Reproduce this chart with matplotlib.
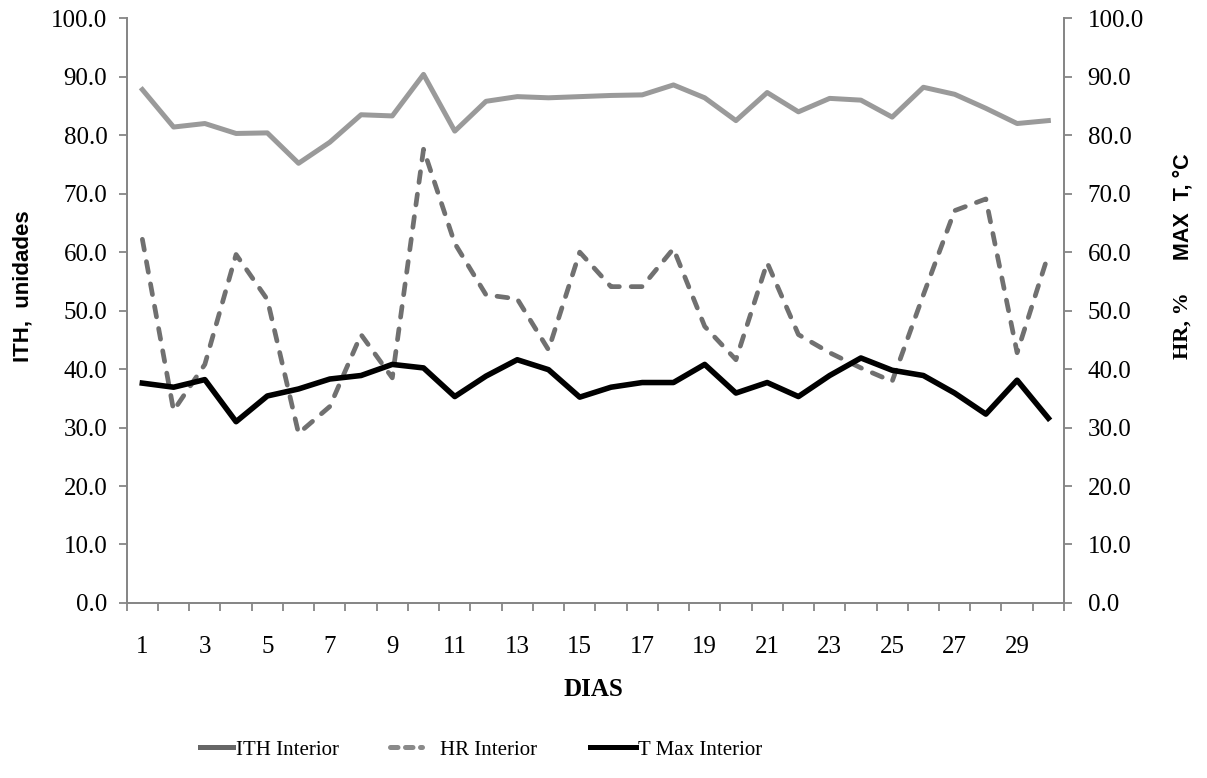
import matplotlib
matplotlib.use("Agg")
import matplotlib.pyplot as plt
from matplotlib.lines import Line2D

days = list(range(1, 31))
ith_interior = [87.8, 81.4, 82.0, 80.3, 80.4, 75.2, 78.8, 83.5, 83.3, 90.4,
                80.7, 85.8, 86.6, 86.4, 86.6, 86.8, 86.9, 88.6, 86.4, 82.5,
                87.3, 84.0, 86.3, 86.0, 83.1, 88.2, 87.0, 84.6, 82.0, 82.5]
hr_interior = [62.2, 32.9, 40.8, 59.6, 51.9, 29.0, 33.6, 45.9, 38.5, 77.6,
               61.5, 52.7, 52.0, 43.3, 60.0, 54.1, 54.1, 60.6, 47.3, 41.6,
               58.2, 45.9, 42.8, 40.2, 37.9, 52.7, 67.1, 69.1, 42.8, 59.6]
tmax_interior = [37.6, 36.9, 38.2, 31.0, 35.4, 36.6, 38.3, 38.9, 40.8, 40.2,
                 35.3, 38.8, 41.6, 39.9, 35.2, 36.9, 37.7, 37.7, 40.8, 35.9,
                 37.7, 35.3, 38.9, 41.9, 39.8, 38.9, 35.9, 32.3, 38.1, 31.6]
y_ticks = [0, 10, 20, 30, 40, 50, 60, 70, 80, 90, 100]
x_labels_shown = list(range(1, 31, 2))
legend_labels = ["ITH Interior", "HR Interior", "T Max Interior"]

serif = ["Liberation Serif", "DejaVu Serif"]
sans = ["Liberation Sans", "DejaVu Sans"]
spine_c = "#868686"
W, H = 1207, 778

fig = plt.figure(figsize=(W / 100, H / 100), dpi=100)
ax = fig.add_axes([0.105, 0.225, 0.7765, 0.7515])
ax2 = ax.twinx()

ax.plot(days, ith_interior, color="#9a9a9a", lw=3.6, zorder=3)
ax2.plot(days, hr_interior, color="#707070", lw=3.4, linestyle=(0, (2.3, 2.5)),
         dash_capstyle="round", zorder=3)
ax2.plot(days, tmax_interior, color="black", lw=4.0, zorder=4)

for a in (ax, ax2):
    a.set_ylim(0, 100)
    a.set_xlim(0.5, 30.5)
    a.set_yticks(y_ticks)
    a.set_yticklabels([f"{v:.1f}" for v in y_ticks], fontfamily=serif, fontsize=18)
    for s in a.spines.values():
        s.set_color(spine_c)
        s.set_linewidth(1.3)
    a.spines["top"].set_visible(False)
    a.tick_params(axis="y", color=spine_c, length=6, width=1.3)
ax.tick_params(axis="y", pad=8)
ax2.tick_params(axis="y", pad=11)

ax.set_xticks([d - 0.5 for d in days] + [30.5])
ax.set_xticklabels([])
ax.set_xticks(x_labels_shown, minor=True)
ax.set_xticklabels([str(d) for d in x_labels_shown], minor=True,
                   fontfamily=serif, fontsize=18)
ax.tick_params(axis="x", which="major", color=spine_c, length=6, width=1.3)
ax.tick_params(axis="x", which="minor", length=0, pad=24)

fig.text(593 / W, 1 - 690 / H, "DIAS", ha="center", va="center",
         fontfamily=serif, fontsize=18, fontweight="bold")
fig.text(23 / W, 1 - 286 / H, "ITH,  unidades", rotation=90, ha="center", va="center",
         fontfamily=sans, fontsize=16, fontweight="bold")
fig.text(1183 / W, 1 - 326 / H, "HR, %", rotation=90, ha="center", va="center",
         fontfamily=serif, fontsize=16, fontweight="bold")
fig.text(1183 / W, 1 - 207 / H, "MAX  T, °C", rotation=90, ha="center", va="center",
         fontfamily=sans, fontsize=15.5, fontweight="bold")

fs = 15
em = fs * 100 / 72
handles = [Line2D([], [], color="#666666", lw=3.6),
           Line2D([], [], color="#8a8a8a", lw=3.6, linestyle=(0, (1.5, 1.5)),
                  dash_capstyle="round"),
           Line2D([], [], color="black", lw=3.6)]
starts = [200, 390, 590]
hlens = [33, 32, 46]
pads = [3, 18, 2]
for h, lab, x0, hl, pd in zip(handles, legend_labels, starts, hlens, pads):
    fig.legend([h], [lab], loc="center left", bbox_to_anchor=(x0 / W, 0.036),
               frameon=False, prop={"family": serif, "size": fs},
               handlelength=hl / em, handletextpad=pd / em,
               borderpad=0, borderaxespad=0)

fig.savefig("out.png", dpi=100)
